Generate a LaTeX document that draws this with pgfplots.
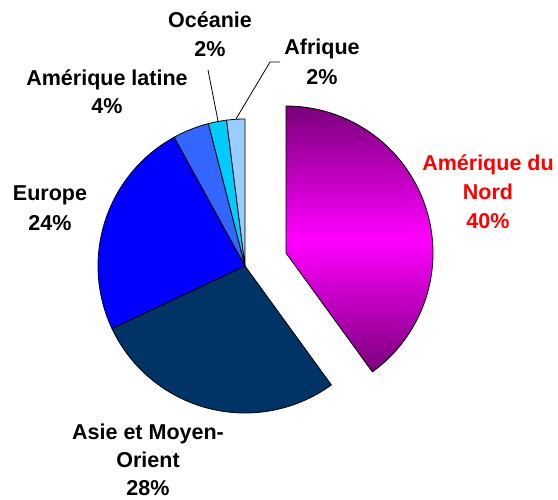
\documentclass[border=0pt]{standalone}
\usepackage{pgfplots}
\pgfplotsset{compat=1.18}
\usepackage{fontspec}
\setmainfont{Liberation Sans}
\definecolor{cNA}{HTML}{FF00FF}
\definecolor{cNAdark}{HTML}{7A007A}
\definecolor{cAsie}{HTML}{003366}
\definecolor{cEur}{HTML}{0000FF}
\definecolor{cAL}{HTML}{3366FF}
\definecolor{cOce}{HTML}{00CCFF}
\definecolor{cAfr}{HTML}{99CCFF}
\tikzset{lbl/.style={font=\fontsize{21.5bp}{29bp}\selectfont\bfseries, inner sep=0pt, anchor=base}}
% #1 cumulative percent before the slice (clockwise from 12 o'clock), #2 percent, #3 cx, #4 cy, #5 style
\newcommand{\pieslice}[5]{%
  \pgfmathsetmacro\aEnd{90-3.6*#1}%
  \pgfmathsetmacro\aStart{90-3.6*(#1+#2)}%
  \addplot[#5, draw=black, line width=0.8bp, domain=\aStart:\aEnd, samples=90, variable=\t]
    ({#3+147*cos(\t)},{#4+147*sin(\t)}) -- (axis cs:#3,#4) -- cycle;
}
\begin{document}
\begin{tikzpicture}
\begin{axis}[hide axis, scale only axis, width=558bp, height=500bp,
  xmin=0, xmax=558, ymin=0, ymax=500, clip=false]
% Amérique du Nord 40% (exploded)
\pieslice{0}{40}{286}{247}{top color=cNAdark, bottom color=cNAdark, middle color=cNA}
% Asie et Moyen-Orient 28%
\pieslice{40}{28}{245}{234}{fill=cAsie}
% Europe 24%
\pieslice{68}{24}{245}{234}{fill=cEur}
% Amérique latine 4%
\pieslice{92}{4}{245}{234}{fill=cAL}
% Océanie 2%
\pieslice{96}{2}{245}{234}{fill=cOce}
% Afrique 2%
\pieslice{98}{2}{245}{234}{fill=cAfr}
% leader lines
\draw[line width=0.8bp] (axis cs:208,430) -- (axis cs:218,379);
\draw[line width=0.8bp] (axis cs:280,438) -- (axis cs:270,438) -- (axis cs:236,381);
% labels
\node[lbl] at (axis cs:210,472) {Océanie};
\node[lbl] at (axis cs:210,443) {2\%};
\node[lbl] at (axis cs:322,445) {Afrique};
\node[lbl] at (axis cs:322,415) {2\%};
\node[lbl] at (axis cs:107,414) {Amérique latine};
\node[lbl] at (axis cs:107,386) {4\%};
\node[lbl] at (axis cs:50,299) {Europe};
\node[lbl] at (axis cs:50,269) {24\%};
\node[lbl, text=red] at (axis cs:488,329) {Amérique du};
\node[lbl, text=red] at (axis cs:488,300) {Nord};
\node[lbl, text=red] at (axis cs:488,271) {40\%};
\node[lbl] at (axis cs:148,60) {Asie et Moyen-};
\node[lbl] at (axis cs:148,32) {Orient};
\node[lbl] at (axis cs:148,4) {28\%};
\end{axis}
\pgfresetboundingbox
\path[use as bounding box] (0,0) rectangle (558bp,500bp);
\end{tikzpicture}
\end{document}
